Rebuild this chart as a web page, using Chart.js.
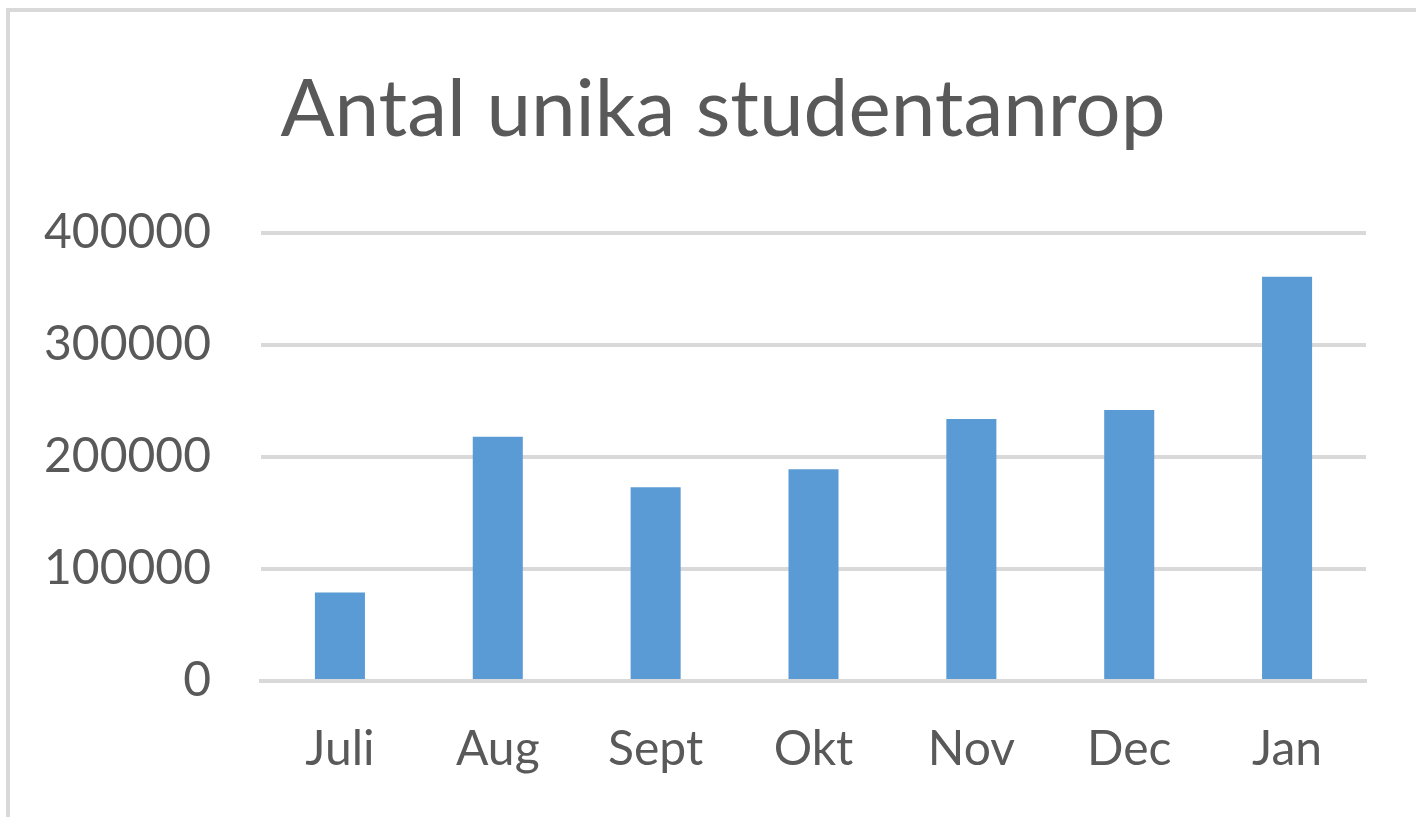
<!DOCTYPE html>
<html>
<head>
<meta charset="utf-8">
<script src="https://cdn.jsdelivr.net/npm/chart.js@4.4.1/dist/chart.umd.min.js"></script>
<style>
  html, body { margin: 0; padding: 0; background: #ffffff; overflow: hidden; }
  #frame { position: absolute; left: 6px; top: 8px; width: 1440px; height: 840px; border: 4px solid #D9D9D9; box-sizing: border-box; }
  #wrap { position: absolute; left: 0; top: 0; width: 1416px; height: 817px; }
</style>
</head>
<body>
<div id="frame"></div>
<div id="wrap"><canvas id="c" width="1416" height="817"></canvas></div>
<script>
const categories = ["Juli", "Aug", "Sept", "Okt", "Nov", "Dec", "Jan"];
const unikaStudentanrop = [79000, 218000, 173000, 189000, 234000, 242000, 361000];
const yTicks = [0, 100000, 200000, 300000, 400000];
const chartTitle = "Antal unika studentanrop";

const textColor = "#595959";
const fontFamily = "Lato, 'Open Sans', sans-serif";

new Chart(document.getElementById("c"), {
  type: "bar",
  data: {
    labels: categories,
    datasets: [{
      label: chartTitle,
      data: unikaStudentanrop,
      backgroundColor: "#5B9BD5",
      borderWidth: 0,
      categoryPercentage: 1,
      barPercentage: 0.317
    }]
  },
  options: {
    responsive: false,
    animation: false,
    layout: { padding: { left: 30, right: 0, top: 0, bottom: 0 } },
    plugins: {
      legend: { display: false },
      tooltip: { enabled: false },
      title: {
        display: true,
        text: chartTitle,
        color: textColor,
        font: { family: fontFamily, size: 80, weight: "normal", lineHeight: 1.2 },
        padding: { top: 62, bottom: 75 }
      }
    },
    scales: {
      x: {
        z: 1,
        grid: { display: false, drawTicks: false },
        border: { display: true, color: "#D9D9D9", width: 4 },
        ticks: {
          color: textColor,
          font: { family: fontFamily, size: 48 },
          padding: 40,
          maxRotation: 0
        },
        afterFit: (s) => { s.height = 136; }
      },
      y: {
        min: 0,
        max: 400000,
        afterBuildTicks: (s) => { s.ticks = yTicks.map(v => ({ value: v })); },
        grid: { color: "#D9D9D9", lineWidth: 4, drawTicks: false },
        border: { display: false },
        ticks: {
          color: textColor,
          font: { family: fontFamily, size: 48 },
          padding: 50,
          callback: (v) => String(v)
        },
        afterFit: (s) => { s.width = 231; }
      },
      yRight: {
        type: "linear",
        position: "right",
        min: 0,
        max: 400000,
        grid: { display: false, drawTicks: false },
        border: { display: false },
        ticks: { display: false },
        afterFit: (s) => { s.width = 50; }
      }
    }
  }
});
</script>
</body>
</html>
